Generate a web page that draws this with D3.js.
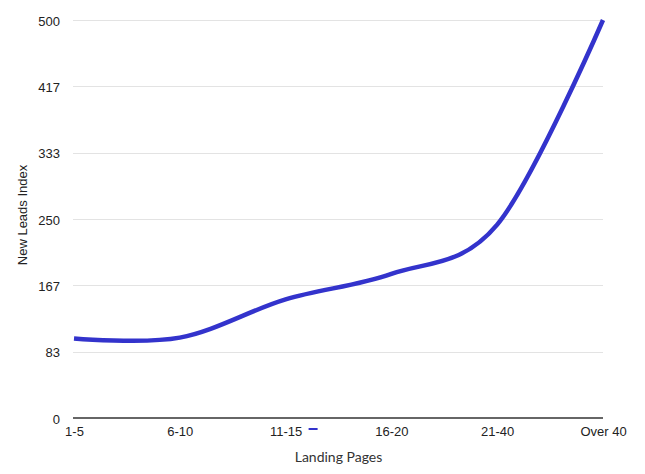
<!DOCTYPE html>
<html>
<head>
<meta charset="utf-8">
<script src="https://cdn.jsdelivr.net/npm/d3@7"></script>
<style>
  html, body { margin: 0; padding: 0; background: #fff; }
  svg { display: block; }
</style>
</head>
<body>
<svg id="chart" width="645" height="474"></svg>
<script>
const categories = ["1-5", "6-10", "11-15", "16-20", "21-40", "Over 40"];
const values = [100, 101, 149, 181, 243, 500];
const yTicks = [0, 500/6, 1000/6, 250, 2000/6, 2500/6, 500];
const yTickLabels = ["0", "83", "167", "250", "333", "417", "500"];
const xTitle = "Landing Pages";
const yTitle = "New Leads Index";

(function () {
const svg = d3.select("#chart");
const pLeft = 74, pRight = 603, pTop = 20, pBottom = 418;

const x = d3.scalePoint().domain(categories).range([pLeft, pRight]);
const y = d3.scaleLinear().domain([0, 500]).range([pBottom, pTop]);

// gridlines
svg.append("g")
  .selectAll("line")
  .data(yTicks.slice(1))
  .join("line")
  .attr("x1", pLeft - 1).attr("x2", pRight)
  .attr("y1", d => Math.round(y(d)) + 0.5).attr("y2", d => Math.round(y(d)) + 0.5)
  .attr("stroke", "#e3e3e3").attr("stroke-width", 1);

// y axis labels
const yAxis = d3.axisLeft(y).tickValues(yTicks).tickFormat((d, i) => yTickLabels[i]).tickSize(0).tickPadding(0);
const yg = svg.append("g").attr("transform", `translate(${pLeft - 14},1)`).call(yAxis);
yg.select(".domain").remove();
yg.selectAll("text")
  .attr("font-family", "'Liberation Sans', Arial, Helvetica, sans-serif")
  .attr("font-size", 13).attr("fill", "#222");

// x axis baseline
svg.append("line")
  .attr("x1", pLeft - 1).attr("x2", pRight)
  .attr("y1", y(0)).attr("y2", y(0))
  .attr("stroke", "#333").attr("stroke-width", 1.5);

// x axis labels
const xAxis = d3.axisBottom(x).tickSize(0).tickPadding(0);
const xg = svg.append("g").attr("transform", `translate(0,${pBottom + 9})`).call(xAxis);
xg.select(".domain").remove();
xg.selectAll("text")
  .attr("font-family", "'Liberation Sans', Arial, Helvetica, sans-serif")
  .attr("font-size", 13).attr("fill", "#222");

// legend dash (no label)
svg.append("line")
  .attr("x1", x("11-15") + 23).attr("x2", x("11-15") + 32)
  .attr("y1", 429).attr("y2", 429)
  .attr("stroke", "#3333cc").attr("stroke-width", 2);

// line
const line = d3.line()
  .x((d, i) => x(categories[i]))
  .y(d => y(d))
  .curve(d3.curveCardinal.tension(0));

svg.append("path")
  .datum(values)
  .attr("d", line)
  .attr("fill", "none")
  .attr("stroke", "#3333cc")
  .attr("stroke-width", 4.5)
  .attr("stroke-linejoin", "round");

// titles
svg.append("text")
  .attr("x", (pLeft + pRight) / 2).attr("y", 462)
  .attr("text-anchor", "middle")
  .attr("font-family", "Lato, sans-serif").attr("font-size", 14).attr("fill", "#333")
  .text(xTitle);

svg.append("text")
  .attr("transform", `translate(27,${(pTop + pBottom) / 2 - 4}) rotate(-90)`)
  .attr("text-anchor", "middle")
  .attr("font-family", "'Liberation Sans', Arial, Helvetica, sans-serif").attr("font-size", 13).attr("fill", "#222")
  .text(yTitle);
})();
</script>
</body>
</html>
